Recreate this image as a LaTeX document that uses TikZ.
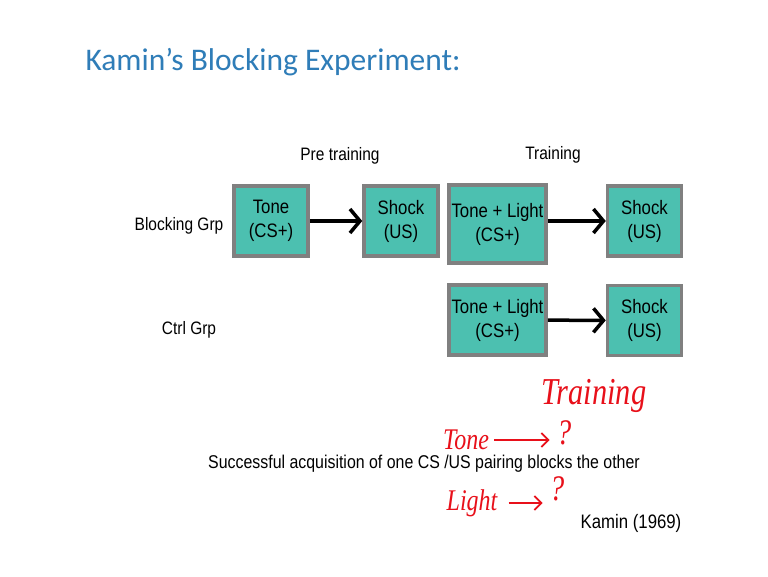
\documentclass[tikz,border=0pt]{standalone}
\usepackage{fontspec}
\setmainfont{Liberation Sans}
\newfontfamily\titlefont{Carlito}
\newfontfamily\narrowfont[FakeStretch=0.86]{Liberation Sans}
\newfontfamily\handfont[FakeStretch=0.8]{Liberation Serif}
\usetikzlibrary{arrows.meta,positioning}
\definecolor{boxteal}{HTML}{4CC0B0}
\definecolor{boxedge}{HTML}{808080}
\definecolor{titleblue}{HTML}{2F7DB8}
\definecolor{inkred}{HTML}{E8101A}
\tikzstyle{stim} = [draw=boxedge,line width=3.5pt,fill=boxteal,rectangle,inner sep=0,minimum width=74pt,minimum height=70pt,align=center,font=\narrowfont\fontsize{19.5}{24}\selectfont]
\tikzstyle{pair} = [line width=3.5pt,-{Straight Barb[length=10pt,width=24pt]}]
\tikzstyle{lbl} = [font=\narrowfont\fontsize{18}{20}\selectfont]
\tikzstyle{ink} = [text=inkred,inner sep=1pt,font=\handfont\itshape\fontsize{30}{30}\selectfont]
\tikzstyle{inkq} = [ink,font=\handfont\itshape\fontsize{36}{36}\selectfont]
\tikzstyle{inkline} = [draw=inkred,line width=1.8pt,-{Straight Barb[length=7pt,width=14pt]}]

\begin{document}
\begin{tikzpicture}[x=1pt,y=-1pt]
  \useasboundingbox[fill=white] (0,0) rectangle (768,576);
  \node[anchor=west,text=titleblue,font=\titlefont\fontsize{31.5}{36}\selectfont] (title) at (82,62) {Kamin’s Blocking Experiment:};
  % column heads and group labels
  \node[lbl] (pre) at (340,156) {Pre training};
  \node[lbl] (train) at (553,155) {Training};
  \node[lbl] (blk) at (179,226) {Blocking Grp};
  \node[lbl] (ctrl) at (189,330) {Ctrl Grp};
  % blocking group
  \node[stim] (tone) at (271,221) {Tone\\(CS+)};
  \node[stim] (shockA) at (401,221) {Shock\\(US)};
  \node[stim,minimum width=97pt,minimum height=78pt] (tlA) at (497.5,224) {Tone + Light\\(CS+)};
  \node[stim] (shockB) at (644.5,221) {Shock\\(US)};
  \draw[pair] (tone) -- (shockA);
  \draw[pair] (tlA.east|-shockB) -- (shockB);
  % control group
  \node[stim,minimum width=97pt] (tlB) at (497.5,320) {Tone + Light\\(CS+)};
  \node[stim] (shockC) at (644.5,320.5) {Shock\\(US)};
  \draw[pair] (tlB) -- (shockC);
  % footnotes
  \node[lbl,font=\narrowfont\fontsize{18.5}{20}\selectfont] (rule) at (424,464) {Successful acquisition of one CS /US pairing blocks the other};
  \node[lbl,font=\narrowfont\fontsize{19.5}{20}\selectfont] (cite) at (631,523) {Kamin (1969)};
  % handwritten notes
  \node[ink,font=\handfont\itshape\fontsize{38}{38}\selectfont] (hTrain) at (594,396) {Training};
  \node[ink] (hTone) at (466,440) {Tone};
  \node[inkq] (hQa) at (564,433) {?};
  \node[ink] (hLight) at (472,503) {Light};
  \node[inkq] (hQb) at (557,489) {?};
  \draw[inkline] ([xshift=4pt]hTone.east) -- ([xshift=-6pt]hQa.west|-hTone.east);
  \draw[inkline] ([xshift=10pt]hLight.east) -- ([xshift=-6pt]hQb.west|-hLight.east);
\end{tikzpicture}
\end{document}
